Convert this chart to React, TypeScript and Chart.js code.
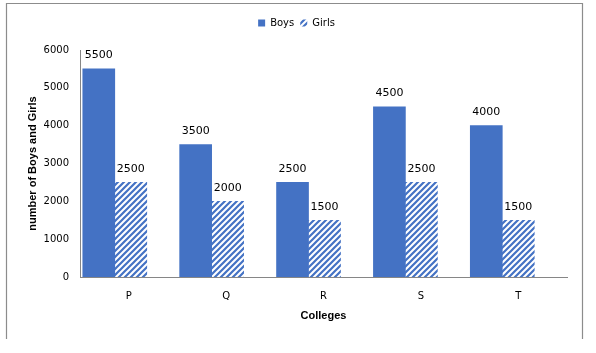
import React, { useEffect, useRef } from "react";
import { Chart, registerables } from "chart.js";

Chart.register(...registerables);

const categories = ["P", "Q", "R", "S", "T"];
const boys = [5500, 3500, 2500, 4500, 4000];
const girls = [2500, 2000, 1500, 2500, 1500];
const seriesNames = ["Boys", "Girls"];
const yTicks = [0, 1000, 2000, 3000, 4000, 5000, 6000];
const xTitle = "Colleges";
const yTitle = "number of Boys and Girls";

const BLUE = "#4472C4";
const AXIS = "#868686";
const FRAME = "#8c8c8c";
const FONT = "'DejaVu Sans'";
const TITLE_FONT = "'Liberation Sans'";

function makeHatch(): CanvasPattern | string {
  const c = document.createElement("canvas");
  c.width = 6;
  c.height = 6;
  const g = c.getContext("2d");
  if (!g) return BLUE;
  g.fillStyle = "#ffffff";
  g.fillRect(0, 0, 6, 6);
  g.strokeStyle = BLUE;
  g.lineWidth = 2.2;
  g.beginPath();
  g.moveTo(-1, 7);
  g.lineTo(7, -1);
  g.moveTo(-1, 1);
  g.lineTo(1, -1);
  g.moveTo(5, 7);
  g.lineTo(7, 5);
  g.stroke();
  return g.createPattern(c, "repeat") || BLUE;
}

const framePlugin = {
  id: "frame",
  afterDraw(chart: any) {
    const ctx = chart.ctx;
    ctx.save();
    ctx.strokeStyle = FRAME;
    ctx.lineWidth = 1.2;
    ctx.beginPath();
    ctx.moveTo(6.5, 339);
    ctx.lineTo(6.5, 3.5);
    ctx.lineTo(582.5, 3.5);
    ctx.lineTo(582.5, 339);
    ctx.stroke();
    ctx.restore();
  },
};

const legendSpacePlugin = {
  id: "legendSpace",
  beforeLayout(chart: any) {
    const lg = chart.legend;
    if (lg && !lg.__patched) {
      const fit = lg.fit;
      lg.fit = function () {
        fit.call(this);
        this.height += 12;
      };
      lg.__patched = true;
    }
  },
};

const valueLabelPlugin = {
  id: "valueLabels",
  afterDatasetsDraw(chart: any) {
    const ctx = chart.ctx;
    ctx.save();
    ctx.font = `11px ${FONT}`;
    ctx.fillStyle = "#000";
    ctx.textAlign = "center";
    ctx.textBaseline = "middle";
    chart.data.datasets.forEach((ds: any, di: number) => {
      const meta = chart.getDatasetMeta(di);
      if (meta.hidden) return;
      meta.data.forEach((el: any, i: number) => {
        const raw = ds.data[i];
        const v = typeof raw === "object" ? raw.y : raw;
        ctx.fillText(String(v), el.x, el.y - 13.5);
      });
    });
    ctx.restore();
  },
};

export default function App() {
  const ref = useRef<HTMLCanvasElement | null>(null);

  useEffect(() => {
    if (!ref.current) return;
    const hatch = makeHatch();
    const chart = new Chart(ref.current, {
      type: "bar",
      data: {
        labels: categories,
        datasets: [
          {
            label: seriesNames[0],
            data: boys.map((v, i) => ({ x: i, y: v })) as any,
            backgroundColor: BLUE,
            borderWidth: 0,
            barThickness: 32,
            xAxisID: "xb",
            yAxisID: "y",
          },
          {
            label: seriesNames[1],
            data: girls.map((v, i) => ({ x: i, y: v })) as any,
            backgroundColor: hatch as any,
            borderWidth: 0,
            barThickness: 32,
            xAxisID: "xb",
            yAxisID: "y",
          },
        ],
      },
      options: {
        responsive: false,
        animation: false,
        devicePixelRatio: 1,
        layout: { padding: { top: 12, left: 0, right: 3, bottom: 0 } },
        plugins: {
          legend: {
            position: "top",
            labels: {
              boxWidth: 7,
              boxHeight: 7,
              padding: 6,
              color: "#000",
              font: { family: FONT, size: 10 },
            },
          },
          tooltip: { enabled: false },
        },
        scales: {
          x: {
            type: "category",
            position: "bottom",
            offset: true,
            grid: { display: false, drawTicks: false },
            border: { display: true, color: AXIS, width: 1 },
            ticks: { color: "#000", padding: 13.4, font: { family: FONT, size: 10 } },
            title: {
              display: true,
              text: xTitle,
              color: "#000",
              font: { family: TITLE_FONT, size: 11, weight: "bold" },
              padding: { top: 0, bottom: 30.4 },
            },
            afterFit: (s: any) => {
              s.height = 76;
            },
          },
          xb: {
            type: "linear",
            position: "bottom",
            display: false,
            offset: false,
            min: -0.359,
            max: 4.668,
          },
          y: {
            type: "linear",
            position: "left",
            min: 0,
            max: 6000,
            grid: { display: false, drawTicks: false },
            border: { display: true, color: AXIS, width: 1 },
            ticks: {
              color: "#000",
              padding: 11,
              font: { family: FONT, size: 10 },
              callback: (v: any) => String(v),
            },
            afterBuildTicks: (s: any) => {
              s.ticks = yTicks.map((v) => ({ value: v }));
            },
            title: {
              display: true,
              text: yTitle,
              color: "#000",
              font: { family: TITLE_FONT, size: 11, weight: "bold" },
              padding: { top: 26.4, bottom: 0 },
            },
            afterFit: (s: any) => {
              s.width = 80;
            },
          },
          yr: {
            type: "linear",
            position: "right",
            display: true,
            grid: { display: false, drawTicks: false },
            border: { display: false },
            ticks: { display: false },
            afterFit: (s: any) => {
              s.width = 26;
            },
          },
        },
      } as any,
      plugins: [legendSpacePlugin, valueLabelPlugin, framePlugin],
    });
    return () => chart.destroy();
  }, []);

  return (
    <div style={{ position: "absolute", left: 0, top: 0, width: 596, height: 353, background: "#fff" }}>
      <canvas ref={ref} width={596} height={353} style={{ display: "block" }} />
    </div>
  );
}
